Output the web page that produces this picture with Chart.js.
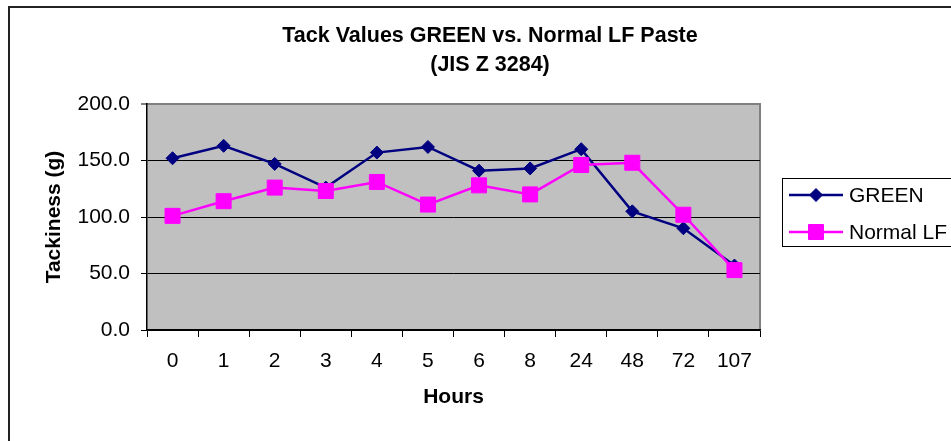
<!DOCTYPE html>
<html>
<head>
<meta charset="utf-8">
<title>Tack Values GREEN vs. Normal LF Paste</title>
<script src="https://cdn.jsdelivr.net/npm/chart.js@4/dist/chart.umd.min.js"></script>
<style>
  html, body { margin: 0; padding: 0; background: #fff; }
  #wrap { width: 951px; height: 441px; }
</style>
</head>
<body>
<div id="wrap"><canvas id="tackChart" width="951" height="441"></canvas></div>
<script>
// --- DATOS ---
const hours = ["0", "1", "2", "3", "4", "5", "6", "8", "24", "48", "72", "107"];
const greenValues = [152, 163, 147, 126, 157, 162, 141, 143, 160, 105, 90, 57];
const normalLfValues = [101, 114, 126, 123, 131, 111, 128, 120, 146, 148, 102, 53];
const yTicks = [0, 50, 100, 150, 200];
const titleLines = ["Tack Values GREEN vs. Normal LF Paste", "(JIS Z 3284)"];

const FONT = "Arial, 'Liberation Sans', sans-serif";

// fondo gris del área, marco exterior
const framePlugin = {
  id: "frame",
  beforeDraw(chart) {
    const { ctx, chartArea: a } = chart;
    ctx.save();
    ctx.fillStyle = "#fff";
    ctx.fillRect(0, 0, chart.width, chart.height);
    // marco exterior (solo arriba e izquierda visibles)
    ctx.strokeStyle = "#222";
    ctx.lineWidth = 2;
    ctx.beginPath();
    ctx.moveTo(9, chart.height + 2);
    ctx.lineTo(9, 7);
    ctx.lineTo(chart.width + 2, 7);
    ctx.stroke();
    // área de trazado
    ctx.fillStyle = "#c0c0c0";
    ctx.fillRect(a.left, a.top, a.right - a.left, a.bottom - a.top);
    ctx.strokeStyle = "#808080";
    ctx.lineWidth = 2;
    ctx.beginPath();
    ctx.moveTo(a.left, a.top);
    ctx.lineTo(a.right, a.top);
    ctx.lineTo(a.right, a.bottom);
    ctx.stroke();
    ctx.restore();
  },
};

// título centrado en todo el gráfico (no solo en el área)
const titlePlugin = {
  id: "wideTitle",
  afterDraw(chart) {
    const { ctx } = chart;
    ctx.save();
    ctx.fillStyle = "#000";
    ctx.font = `bold 21.5px ${FONT}`;
    ctx.textAlign = "center";
    ctx.textBaseline = "middle";
    titleLines.forEach((t, i) => ctx.fillText(t, 490, 36 + i * 29.5));
    ctx.restore();
  },
};

// leyenda con línea + marcador, en caja
const legendPlugin = {
  id: "boxLegend",
  afterDraw(chart) {
    const { ctx } = chart;
    const box = { x: 782.5, y: 178.5, w: 200, h: 68 };
    const rows = [195, 232];
    ctx.save();
    ctx.fillStyle = "#fff";
    ctx.fillRect(box.x, box.y, box.w, box.h);
    ctx.strokeStyle = "#000";
    ctx.lineWidth = 1;
    ctx.strokeRect(box.x, box.y, box.w, box.h);
    chart.data.datasets.forEach((ds, i) => {
      const y = rows[i];
      ctx.strokeStyle = ds.borderColor;
      ctx.lineWidth = ds.borderWidth;
      ctx.beginPath();
      ctx.moveTo(789, y);
      ctx.lineTo(843, y);
      ctx.stroke();
      ctx.fillStyle = ds.backgroundColor;
      ctx.strokeStyle = ds.borderColor;
      ctx.lineWidth = ds.pointBorderWidth;
      Chart.helpers.drawPoint(ctx, {
        pointStyle: ds.pointStyle,
        radius: ds.pointRadius,
        borderWidth: ds.pointBorderWidth,
      }, 816, y);
      ctx.fillStyle = "#000";
      ctx.font = `21px ${FONT}`;
      ctx.textBaseline = "middle";
      ctx.textAlign = "left";
      ctx.fillText(ds.label, 849, y + 1);
    });
    ctx.restore();
  },
};

new Chart(document.getElementById("tackChart"), {
  type: "line",
  data: {
    labels: hours,
    datasets: [
      {
        label: "GREEN",
        data: greenValues,
        borderColor: "#000080",
        backgroundColor: "#000080",
        borderWidth: 2.5,
        pointStyle: "rectRot",
        pointRadius: 6.5,
        pointBorderWidth: 1,
        tension: 0,
        order: 1,
      },
      {
        label: "Normal LF",
        data: normalLfValues,
        borderColor: "#ff00ff",
        backgroundColor: "#ff00ff",
        borderWidth: 2.5,
        pointStyle: "rect",
        pointRadius: 10.6,
        pointBorderWidth: 1,
        tension: 0,
        order: 0,
      },
    ],
  },
  options: {
    responsive: false,
    animation: false,
    devicePixelRatio: 1,
    layout: { padding: { left: 0, right: 191, top: 104, bottom: 0 } },
    plugins: {
      legend: { display: false },
      tooltip: { enabled: false },
      title: { display: false },
    },
    scales: {
      x: {
        type: "category",
        offset: true,
        grid: {
          offset: true,
          drawOnChartArea: false,
          drawTicks: true,
          tickLength: 7,
          tickColor: "#000",
          tickWidth: 1,
        },
        border: { color: "#000", width: 1.5 },
        ticks: {
          color: "#000",
          font: { family: FONT, size: 21 },
          padding: 12,
          maxRotation: 0,
          autoSkip: false,
        },
        title: {
          display: true,
          text: "Hours",
          color: "#000",
          font: { family: FONT, size: 21, weight: "bold" },
          padding: { top: 0, bottom: 31 },
        },
        afterFit(scale) { scale.height = 111; },
      },
      y: {
        min: yTicks[0],
        max: yTicks[yTicks.length - 1],
        afterBuildTicks(scale) { scale.ticks = yTicks.map((v) => ({ value: v })); },
        grid: {
          color: (c) => (c.tick && c.tick.value === 200 ? "#808080" : "#000"),
          lineWidth: (c) => (c.tick && c.tick.value === 200 ? 2 : 1),
          tickLength: 6,
          tickColor: "#000",
          tickWidth: 1,
        },
        border: { color: "#000", width: 1.5 },
        ticks: {
          color: "#000",
          font: { family: FONT, size: 21 },
          padding: 11,
          callback: (v) => Number(v).toFixed(1),
        },
        title: {
          display: true,
          text: "Tackiness (g)",
          color: "#000",
          font: { family: FONT, size: 21, weight: "bold" },
          padding: { top: 42, bottom: 0 },
        },
        afterFit(scale) { scale.width = 147; },
      },
    },
  },
  plugins: [framePlugin, titlePlugin, legendPlugin],
});
</script>
</body>
</html>
